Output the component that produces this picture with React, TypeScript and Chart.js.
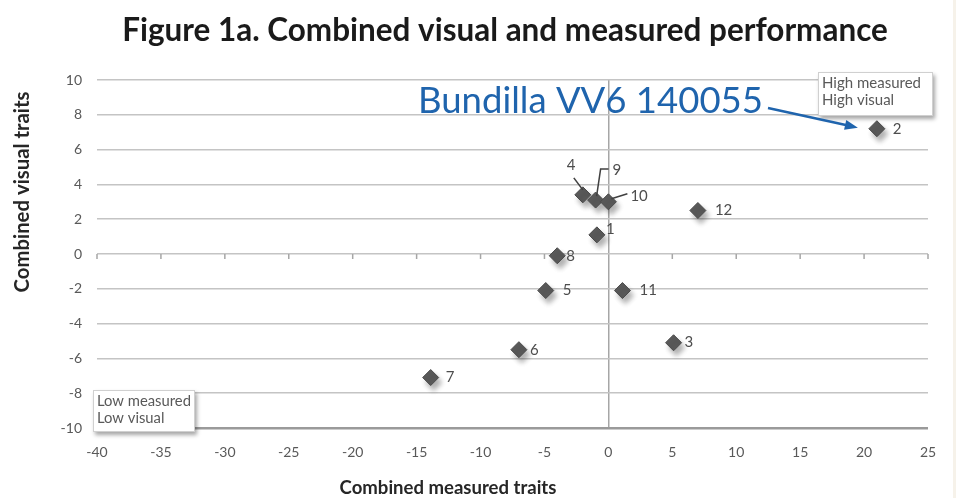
import { useEffect, useRef } from "react";
import { Chart, registerables } from "chart.js";

Chart.register(...registerables);

// ---- data ----
const pointLabels = ["1", "2", "3", "4", "5", "6", "7", "8", "9", "10", "11", "12"];
const measuredTraits = [-0.9, 21.0, 5.1, -2.0, -4.9, -7.0, -13.9, -4.0, -1.0, 0.0, 1.1, 7.0];
const visualTraits = [1.1, 7.2, -5.1, 3.4, -2.1, -5.5, -7.1, -0.1, 3.1, 3.0, -2.1, 2.5];
const xTickRange = [-40, 25, 5]; // min, max, step
const yTickRange = [-10, 10, 2];
const titleText = "Figure 1a. Combined visual and measured performance";
const xTitle = "Combined measured traits";
const yTitle = "Combined visual traits";
const quadrantHigh = ["High measured", "High visual"];
const quadrantLow = ["Low measured", "Low visual"];
const calloutText = "Bundilla VV6 140055";
const calloutIndex = 1;

// label placement (style): offset from point in px, optional leader polyline (relative to point)
const labelStyle: Record<string, { dx: number; dy: number; leader?: number[][] }> = {
  "1": { dx: 9, dy: -6 },
  "2": { dx: 16, dy: 0 },
  "3": { dx: 11, dy: -1 },
  "4": { dx: -16, dy: -30, leader: [[-9, -17], [0, -5]] },
  "5": { dx: 17, dy: 0 },
  "6": { dx: 11, dy: 0 },
  "7": { dx: 15, dy: 0 },
  "8": { dx: 9, dy: 0 },
  "9": { dx: 17, dy: -30, leader: [[13, -31], [5, -31], [1, -4]] },
  "10": { dx: 22, dy: -6, leader: [[19, -8], [3, -3]] },
  "11": { dx: 17, dy: 0 },
  "12": { dx: 17, dy: 0 },
};

const FONT = "Lato, 'Open Sans', sans-serif";
const GRAY = "#595959";

function fitSize(ctx: CanvasRenderingContext2D, text: string, weight: string, family: string, width: number) {
  ctx.font = `${weight} 100px ${family}`;
  const w = ctx.measureText(text).width;
  return (100 * width) / w;
}

const decor = {
  id: "decor",
  beforeDraw(chart: any) {
    const ctx = chart.ctx as CanvasRenderingContext2D;
    ctx.save();
    ctx.fillStyle = "#ffffff";
    ctx.fillRect(0, 0, chart.width, chart.height);
    ctx.restore();
  },
  beforeDatasetsDraw(chart: any) {
    const ctx = chart.ctx as CanvasRenderingContext2D;
    const xs = chart.scales.x;
    const ys = chart.scales.y;
    const y0 = ys.getPixelForValue(0);
    ctx.save();
    ctx.strokeStyle = "#a6a6a6";
    ctx.lineWidth = 1.5;
    for (let v = xTickRange[0]; v <= xTickRange[1]; v += xTickRange[2]) {
      if (v === 0) continue;
      const px = xs.getPixelForValue(v);
      ctx.beginPath();
      ctx.moveTo(px, y0);
      ctx.lineTo(px, y0 + 5);
      ctx.stroke();
    }
    ctx.restore();
  },
  beforeDatasetDraw(chart: any) {
    const ctx = chart.ctx as CanvasRenderingContext2D;
    ctx.save();
    ctx.shadowColor = "rgba(0,0,0,0.3)";
    ctx.shadowBlur = 5;
    ctx.shadowOffsetX = 3;
    ctx.shadowOffsetY = 5;
  },
  afterDatasetDraw(chart: any) {
    chart.ctx.restore();
  },
  afterDatasetsDraw(chart: any) {
    const ctx = chart.ctx as CanvasRenderingContext2D;
    const meta = chart.getDatasetMeta(0);
    ctx.save();
    // point labels
    ctx.fillStyle = "#4d4d4d";
    ctx.strokeStyle = "#404040";
    ctx.lineWidth = 1.5;
    ctx.font = `15px ${FONT}`;
    ctx.textBaseline = "middle";
    ctx.textAlign = "left";
    meta.data.forEach((el: any, i: number) => {
      const lab = pointLabels[i];
      const st = labelStyle[lab] || { dx: 12, dy: 0 };
      ctx.fillText(lab, el.x + st.dx, el.y + st.dy);
      if (st.leader) {
        ctx.beginPath();
        st.leader.forEach((p, k) => {
          if (k === 0) ctx.moveTo(el.x + p[0], el.y + p[1]);
          else ctx.lineTo(el.x + p[0], el.y + p[1]);
        });
        ctx.stroke();
      }
    });

    // quadrant boxes
    const drawBox = (x: number, y: number, w: number, h: number, lines: string[], textW: number) => {
      ctx.save();
      ctx.shadowColor = "rgba(0,0,0,0.35)";
      ctx.shadowBlur = 4;
      ctx.shadowOffsetX = 2;
      ctx.shadowOffsetY = 3;
      ctx.fillStyle = "#ffffff";
      ctx.fillRect(x, y, w, h);
      ctx.restore();
      ctx.save();
      ctx.strokeStyle = "#d0d0d0";
      ctx.lineWidth = 1;
      ctx.strokeRect(x + 0.5, y + 0.5, w - 1, h - 1);
      ctx.fillStyle = GRAY;
      const fs = Math.min(15, fitSize(ctx, lines[0], "400", FONT, textW));
      ctx.font = `${fs}px ${FONT}`;
      ctx.textBaseline = "middle";
      ctx.textAlign = "left";
      lines.forEach((t, k) => ctx.fillText(t, x + 4, y + 11 + k * 17));
      ctx.restore();
    };
    drawBox(818, 72, 115, 44, quadrantHigh, 106);
    drawBox(93, 390, 102, 42, quadrantLow, 94);

    // callout
    const blue = "#1f64ad";
    const cfam = "Lato, 'Open Sans', sans-serif";
    const cs = fitSize(ctx, calloutText, "400", cfam, 345);
    ctx.font = `400 ${cs}px ${cfam}`;
    ctx.fillStyle = blue;
    ctx.textAlign = "left";
    ctx.textBaseline = "alphabetic";
    ctx.fillText(calloutText, 418, 113);
    const target = meta.data[calloutIndex];
    const sx = 768, sy = 108;
    const tx = target.x - 19, ty = target.y - 1;
    const ang = Math.atan2(ty - sy, tx - sx);
    ctx.strokeStyle = blue;
    ctx.lineWidth = 2.5;
    ctx.beginPath();
    ctx.moveTo(sx, sy);
    ctx.lineTo(tx - 10 * Math.cos(ang), ty - 10 * Math.sin(ang));
    ctx.stroke();
    ctx.beginPath();
    ctx.moveTo(tx, ty);
    ctx.lineTo(tx - 13 * Math.cos(ang) + 5 * Math.sin(ang), ty - 13 * Math.sin(ang) - 5 * Math.cos(ang));
    ctx.lineTo(tx - 13 * Math.cos(ang) - 5 * Math.sin(ang), ty - 13 * Math.sin(ang) + 5 * Math.cos(ang));
    ctx.closePath();
    ctx.fillStyle = blue;
    ctx.fill();

    // title
    const ts = fitSize(ctx, titleText, "bold", FONT, 766);
    ctx.font = `bold ${ts}px ${FONT}`;
    ctx.fillStyle = "#1a1a1a";
    ctx.textAlign = "center";
    ctx.fillText(titleText, 505, 41);

    // axis titles
    const xs2 = fitSize(ctx, xTitle, "bold", FONT, 217);
    ctx.font = `bold ${xs2}px ${FONT}`;
    ctx.fillStyle = "#262626";
    ctx.textBaseline = "middle";
    ctx.fillText(xTitle, 448, 488);
    const ys2 = fitSize(ctx, yTitle, "bold", FONT, 201);
    ctx.font = `bold ${ys2}px ${FONT}`;
    ctx.save();
    ctx.translate(22, 192);
    ctx.rotate(-Math.PI / 2);
    ctx.fillText(yTitle, 0, 0);
    ctx.restore();

    ctx.restore();
  },
};

export default function App() {
  const ref = useRef<HTMLCanvasElement | null>(null);
  useEffect(() => {
    document.body.style.margin = "0";
    if (!ref.current) return;
    const chart = new Chart(ref.current, {
      type: "scatter",
      data: {
        datasets: [
          {
            data: measuredTraits.map((x, i) => ({ x, y: visualTraits[i] })),
            pointStyle: "rectRot",
            pointRadius: 8,
            pointHoverRadius: 8,
            backgroundColor: "#5a5a5a",
            borderColor: "#4a4a4a",
            borderWidth: 1,
          },
        ],
      },
      options: {
        animation: false,
        responsive: true,
        maintainAspectRatio: false,
        layout: { padding: { top: 80, right: 28, left: 0, bottom: 0 } },
        plugins: { legend: { display: false }, tooltip: { enabled: false }, title: { display: false } },
        scales: {
          x: {
            type: "linear",
            min: xTickRange[0],
            max: xTickRange[1],
            ticks: { stepSize: xTickRange[2], color: GRAY, font: { size: 14, family: FONT }, padding: 16 },
            grid: {
              drawTicks: false,
              color: (c: any) => (c.tick && c.tick.value === 0 ? "#a6a6a6" : "rgba(0,0,0,0)"),
              lineWidth: 1.5,
            },
            border: { display: false },
            afterFit: (s: any) => {
              s.height = 70;
            },
          },
          y: {
            type: "linear",
            min: yTickRange[0],
            max: yTickRange[1],
            ticks: { stepSize: yTickRange[2], color: GRAY, font: { size: 14, family: FONT }, padding: 15 },
            grid: {
              drawTicks: false,
              color: (c: any) => (c.tick && c.tick.value === yTickRange[0] ? "#9a9a9a" : "#c4c4c4"),
              lineWidth: (c: any) => (c.tick && c.tick.value === yTickRange[0] ? 2.5 : 1.5),
            },
            border: { display: false },
            afterFit: (s: any) => {
              s.width = 97;
            },
          },
        },
      },
      plugins: [decor],
    });
    return () => chart.destroy();
  }, []);
  return (
    <div style={{ position: "relative", width: 956, height: 498, background: "#fff" }}>
      <canvas ref={ref} />
      <div style={{ position: "absolute", right: 0, top: 0, width: 3, height: 498, background: "#f6f2ea" }} />
    </div>
  );
}
